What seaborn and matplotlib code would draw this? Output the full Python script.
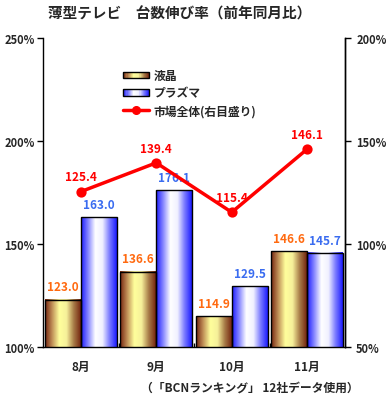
import numpy as np
import pandas as pd
import matplotlib
matplotlib.use("Agg")
import matplotlib.pyplot as plt
import seaborn as sns
from matplotlib.colors import LinearSegmentedColormap
from matplotlib.patches import Rectangle
from matplotlib.lines import Line2D
from matplotlib.legend_handler import HandlerBase

months = ["8月", "9月", "10月", "11月"]
lcd = [123.0, 136.6, 114.9, 146.6]
plasma = [163.0, 176.1, 129.5, 145.7]
market = [125.4, 139.4, 115.4, 146.1]
series_names = ["液晶", "プラズマ", "市場全体(右目盛り)"]
left_ticks = [100, 150, 200, 250]
right_ticks = [50, 100, 150, 200]

sns.set_theme(style="white")
plt.rcParams['font.family'] = ['Noto Sans CJK JP', 'DejaVu Sans']
plt.rcParams['font.weight'] = 'bold'

gold_cmap = LinearSegmentedColormap.from_list("gold", ["#74240f", "#c09058", "#ffff9c", "#f6f09a", "#a87c48", "#74240f"])
blue_cmap = LinearSegmentedColormap.from_list("blue", ["#1a1aff", "#8888ff", "#ffffff", "#f0f0ff", "#7878ff", "#1a1aff"])

df = pd.DataFrame({
    "month": months * 2,
    "value": lcd + plasma,
    "series": [series_names[0]] * 4 + [series_names[1]] * 4,
})

fig = plt.figure(figsize=(3.9, 4.06), dpi=100)
ax = fig.add_axes([43/390, 1-348/406, 302/390, 309/406])

sns.barplot(data=df, x="month", y="value", hue="series", order=months,
            hue_order=series_names[:2], palette=["#e0d080", "#a0a0ff"],
            width=0.95, edgecolor="black", linewidth=1.0, legend=False, ax=ax)
ymin, ymax = 100, 250
ax.set_ylim(ymin, ymax)

# gradient fill in bars
grad = np.linspace(0, 1, 256).reshape(1, -1)
n = len(months)
for i, p in enumerate(ax.patches[:2*n]):
    cmap = gold_cmap if i < n else blue_cmap
    x0, w = p.get_x(), p.get_width()
    top = p.get_y() + p.get_height()
    ax.imshow(grad, cmap=cmap, aspect="auto", extent=[x0, x0+w, ymin, top],
              zorder=p.get_zorder()+0.1, interpolation="bilinear")
    p.set_facecolor("none")
    p.set_zorder(p.get_zorder()+0.2)
ax.set_xlim(-0.5, n-0.5)
ax.set_ylim(ymin, ymax)

for i, p in enumerate(ax.patches[:2*n]):
    val = (lcd + plasma)[i]
    col = "#ff6a10" if i < n else "#3a6cf0"
    ax.text(p.get_x()+p.get_width()/2, val+3, f"{val:.1f}", ha="center", va="bottom",
            color=col, fontsize=8.5, fontweight="bold", zorder=5)

ax.set_yticks(left_ticks)
ax.set_yticklabels([f"{t}%" for t in left_ticks], fontsize=8, fontweight="bold")
ax.set_xticks(range(n))
ax.set_xticklabels(months, fontsize=8.5, fontweight="bold")
ax.set_xticks([0.5, 1.5, 2.5], minor=True)
ax.tick_params(axis="x", which="major", length=0, pad=9)
ax.tick_params(axis="x", which="minor", direction="in", length=3, width=1, color="black", bottom=True)
ax.tick_params(axis="y", direction="out", length=4, width=1, color="black", left=True, pad=2)
ax.set_xlabel("")
ax.set_ylabel("")
for s in ["left", "bottom", "right"]:
    ax.spines[s].set_color("black")
    ax.spines[s].set_linewidth(1)
ax.spines["top"].set_visible(False)

ax2 = ax.twinx()
sns.pointplot(x=months, y=market, order=months, color="#ff0000", markers="o",
              markersize=5.5, linewidth=2.5, ax=ax2)
ax2.set_ylim(50, 200)
ax2.set_yticks(right_ticks)
ax2.set_yticklabels([f"{t}%" for t in right_ticks], fontsize=8, fontweight="bold")
ax2.tick_params(axis="y", direction="out", length=4, width=1, color="black", right=True, pad=4)
ax2.spines["top"].set_visible(False)
ax2.spines["left"].set_visible(False)
ax2.spines["bottom"].set_visible(False)
ax2.spines["right"].set_color("black")
ax2.spines["right"].set_linewidth(1)
ax2.set_xlim(-0.5, n-0.5)
ax2.set_ylabel("")
for i, v in enumerate(market):
    ax2.text(i, v+4, f"{v:.1f}", ha="center", va="bottom", color="#ff0000",
             fontsize=8.5, fontweight="bold", zorder=6)

class GradHandler(HandlerBase):
    def __init__(self, cmap):
        super().__init__()
        self.cmap = cmap
    def create_artists(self, legend, orig_handle, xdescent, ydescent, width, height, fontsize, trans):
        arts = []
        k = 24
        for j in range(k):
            c = self.cmap((j + 0.5) / k)
            arts.append(Rectangle((-xdescent + width*j/k, -ydescent + height*0.1), width/k, height*0.8,
                                  facecolor=c, edgecolor="none", transform=trans))
        arts.append(Rectangle((-xdescent, -ydescent + height*0.1), width, height*0.8,
                              facecolor="none", edgecolor="black", linewidth=1, transform=trans))
        return arts

h1 = Rectangle((0, 0), 1, 1)
h2 = Rectangle((0, 0), 1, 1, facecolor="blue")
h3 = Line2D([], [], color="#ff0000", marker="o", markersize=5.5, linewidth=2.5)
ax2.legend([h1, h2, h3], series_names, loc="upper left", bbox_to_anchor=(0.25, 0.915),
           frameon=False, prop={"size": 8.5, "weight": "bold"},
           handler_map={h1: GradHandler(gold_cmap), h2: GradHandler(blue_cmap)},
           handlelength=2.2, handletextpad=0.4, labelspacing=0.4, borderaxespad=0)

fig.text(180/390, 1-14/406, "薄型テレビ　台数伸び率（前年同月比）", ha="center", va="center",
         fontsize=10.5, fontweight="bold")
fig.text(250/390, 1-388/406, "（「BCNランキング」 12社データ使用）", ha="center", va="center",
         fontsize=8.5, fontweight="bold")

fig.savefig("out.png", dpi=100, facecolor="white")
